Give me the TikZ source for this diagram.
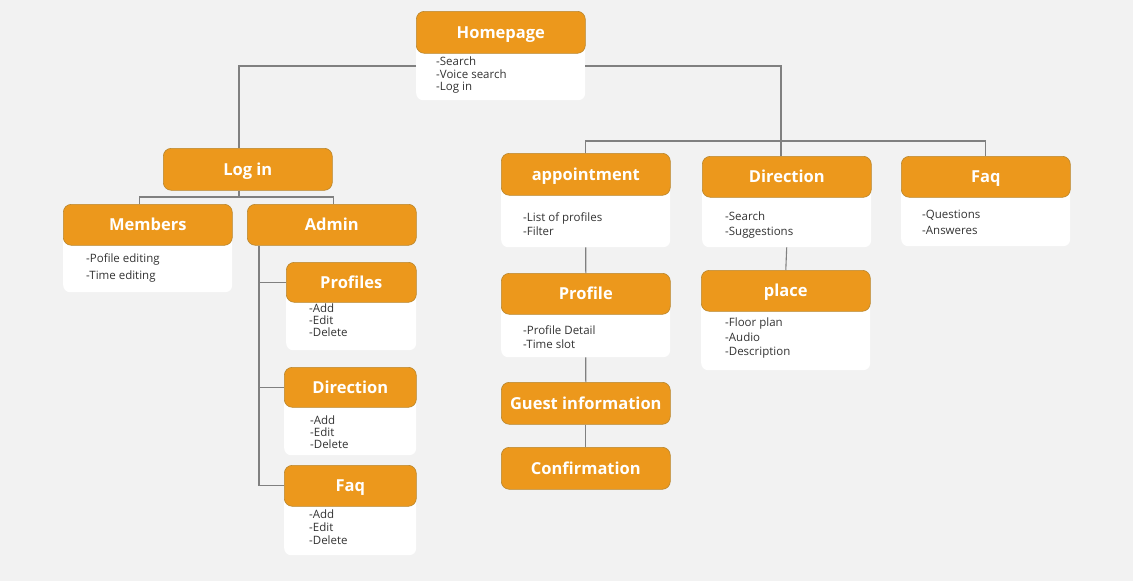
\documentclass[tikz,border=0pt]{standalone}
\usepackage{fontspec}
\setmainfont{Open Sans}
\definecolor{bgc}{HTML}{F2F2F2}
\definecolor{orng}{HTML}{EC981C}
\definecolor{orngline}{HTML}{B8862E}
\definecolor{txt}{HTML}{333333}
\definecolor{wire}{HTML}{808080}
\tikzset{
  head/.style={draw=orngline, fill=orng, rounded corners=8pt, line width=0.6pt,
    minimum width=169pt, minimum height=42pt, inner sep=0pt, anchor=north west,
    text height=12pt, text depth=0pt,
    text=white, font=\fontsize{16.5}{18}\selectfont\bfseries},
  panel/.style={fill=white, rounded corners=7pt, minimum width=169pt,
    inner sep=0pt, anchor=north west},
  note/.style={anchor=north west, align=left, inner sep=0pt, text=txt,
    font=\fontsize{11.5}{12.5}\selectfont},
  link/.style={draw=wire, line width=1.1pt},
}
\begin{document}
\begin{tikzpicture}[x=1pt,y=-1pt]
\fill[bgc] (0,0) rectangle (1133,581);
\useasboundingbox (0,0) rectangle (1133,581);

% top
\node[panel, minimum height=89pt] (homep) at (416,11) {};
\node[head] (home) at (416,11) {Homepage};
\node[note] at (436,57) {-Search\\-Voice search\\-Log in};

% login side
\node[head] (login) at (163,148) {Log in};
\node[panel, minimum height=88pt] (membersp) at (63,204) {};
\node[head, minimum height=41pt] (members) at (63,204) {Members};
\node[note] at (86,253) {-Pofile editing\\[4.5pt]-Time editing};
\node[head, minimum height=41pt] (admin) at (247,204) {Admin};

\node[panel, minimum width=130pt, minimum height=88pt] (aprofp) at (286,262) {};
\node[head, minimum width=130pt, minimum height=40pt] (aprof) at (286,262) {Profiles};
\node[note, font=\fontsize{11.5}{12}\selectfont] at (309,304) {-Add\\-Edit\\-Delete};
\node[panel, minimum width=132pt, minimum height=88pt] (adirp) at (284,367) {};
\node[head, minimum width=132pt, minimum height=40pt] (adir) at (284,367) {Direction};
\node[note, font=\fontsize{11.5}{12}\selectfont] at (310,416) {-Add\\-Edit\\-Delete};
\node[panel, minimum width=132pt, minimum height=90pt] (afaqp) at (284,465) {};
\node[head, minimum width=132pt, minimum height=41pt] (afaq) at (284,465) {Faq};
\node[note, font=\fontsize{11.5}{13}\selectfont] at (309,510) {-Add\\-Edit\\-Delete};

% appointment column
\node[panel, minimum height=94pt] (apptp) at (501,153) {};
\node[head] (appt) at (501,153) {appointment};
\node[note, font=\fontsize{11.5}{14}\selectfont] at (523,212) {-List of profiles\\-Filter};
\node[panel, minimum height=84pt] (profp) at (501,273) {};
\node[head, minimum height=41pt] (prof) at (501,273) {Profile};
\node[note, font=\fontsize{11.5}{14}\selectfont] at (523,325) {-Profile Detail\\-Time slot};
\node[head] (guest) at (501,382) {Guest information};
\node[head] (confirm) at (501,447) {Confirmation};

% direction column
\node[panel, minimum height=91pt] (dirp) at (702,156) {};
\node[head, minimum height=41pt] (dir) at (702,156) {Direction};
\node[note, font=\fontsize{11.5}{15}\selectfont] at (725,212) {-Search\\-Suggestions};
\node[panel, minimum height=100pt] (placep) at (701,270) {};
\node[head, minimum height=41pt] (place) at (701,270) {place};
\node[note, font=\fontsize{11.5}{14.5}\selectfont] at (725,318) {-Floor plan\\-Audio\\-Description};

% faq column
\node[panel, minimum height=90pt] (faqp) at (901,156) {};
\node[head, minimum height=41pt] (faq) at (901,156) {Faq};
\node[note, font=\fontsize{11.5}{16}\selectfont] at (922,210) {-Questions\\-Answeres};

% links
\coordinate (tapL) at (239,66);
\coordinate (tapR) at (781,66);
\coordinate (busL) at (239,197);
\coordinate (busR) at (781,141);
\coordinate (ax) at ([xshift=12pt]admin.south west);
\draw[link] (homep.west |- tapL) -- (tapL) -- (tapL |- login.north);
\draw[link] (homep.east |- tapR) -- (tapR) -- (tapR |- dir.north);
\draw[link] (appt.north) |- (busR) -| (faq.north);
\draw[link] (busL |- login.south) -- (busL);
\draw[link] ([xshift=-8.5pt]members.north) |- (busL) -| ([xshift=1.5pt]admin.north);
\draw[link] (ax) |- (afaq.west);
\draw[link] (ax |- aprof.west) -- (aprof.west);
\draw[link] (ax |- adir.west) -- (adir.west);
\draw[link] (apptp.south) -- (prof.north);
\draw[link] (profp.south) -- (guest.north);
\draw[link] (guest.south) -- (confirm.north);
\draw[link] (dirp.south) -- (place.north);
\end{tikzpicture}
\end{document}
